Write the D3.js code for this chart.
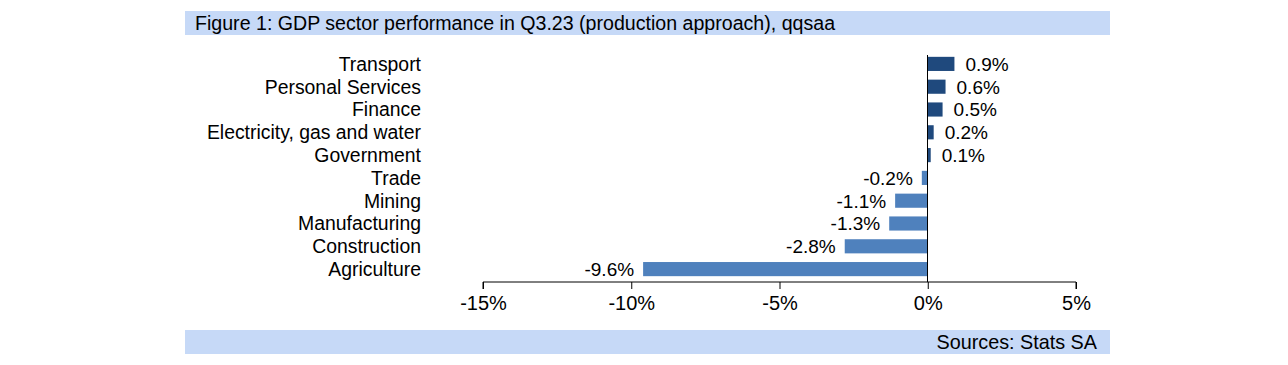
<!DOCTYPE html>
<html><head><meta charset="utf-8">
<script src="https://cdn.jsdelivr.net/npm/d3@7"></script>
<style>body{margin:0;background:#fff}svg{display:block;font-family:"Liberation Sans",Arial,sans-serif}</style>
</head><body><svg id="c" width="1288" height="365"></svg>
<script>
const categories = ["Transport","Personal Services","Finance","Electricity, gas and water","Government","Trade","Mining","Manufacturing","Construction","Agriculture"];
const values = [0.9,0.6,0.5,0.2,0.1,-0.2,-1.1,-1.3,-2.8,-9.6];
const tickValues = [-15,-10,-5,0,5];
const titleText = "Figure 1: GDP sector performance in Q3.23 (production approach), qqsaa";
const sourceText = "Sources: Stats SA";

const svg = d3.select("#c");
const band = "#c6d9f7";
svg.append("rect").attr("x",185).attr("y",11).attr("width",925).attr("height",24).attr("fill",band);
svg.append("text").attr("x",195).attr("y",30).attr("font-size",19.6).attr("fill","#000").text(titleText);
svg.append("rect").attr("x",185).attr("y",330).attr("width",925).attr("height",24).attr("fill",band);
svg.append("text").attr("x",1097).attr("y",349).attr("text-anchor","end").attr("font-size",19.8).attr("fill","#000").text(sourceText);

const x = d3.scaleLinear().domain([-15,5]).range([483,1076]);
const y = d3.scaleBand().domain(categories).range([52.5,280.5]).paddingInner(0.38).paddingOuter(0.19);

// bars
svg.selectAll("rect.bar").data(values).join("rect").attr("class","bar")
  .attr("x",d=>x(Math.min(0,d))).attr("width",d=>Math.abs(x(d)-x(0)))
  .attr("y",(d,i)=>y(categories[i])).attr("height",y.bandwidth())
  .attr("fill",d=>d>=0?"#1f497d":"#4f81bd");

// value labels
svg.selectAll("text.val").data(values).join("text").attr("class","val")
  .attr("x",d=>d>=0?x(d)+11:x(d)-9)
  .attr("y",(d,i)=>y(categories[i])+y.bandwidth()/2)
  .attr("dy","0.36em").attr("font-size",19)
  .attr("text-anchor",d=>d>=0?"start":"end").text(d=>d.toFixed(1)+"%");

// category labels
svg.selectAll("text.cat").data(categories).join("text").attr("class","cat")
  .attr("x",421).attr("y",d=>y(d)+y.bandwidth()/2).attr("dy","0.36em")
  .attr("text-anchor","end").attr("font-size",19.4).text(d=>d);

// zero line
svg.append("line").attr("x1",x(0)).attr("x2",x(0)).attr("y1",55).attr("y2",282)
  .attr("stroke","#000").attr("stroke-width",1).attr("shape-rendering","crispEdges");

// x axis
const ax = svg.append("g").attr("transform","translate(0,282)")
  .call(d3.axisBottom(x).tickValues(tickValues).tickSize(7).tickPadding(7).tickFormat(d=>d+"%"));
ax.select(".domain").attr("stroke","#000").attr("d",`M${x(-15)},7V0H${x(5)}V7`);
ax.selectAll(".tick line").attr("stroke","#000");
ax.selectAll("text").attr("font-size",20).attr("fill","#000").attr("font-family","Liberation Sans, Arial, sans-serif");
</script></body></html>
